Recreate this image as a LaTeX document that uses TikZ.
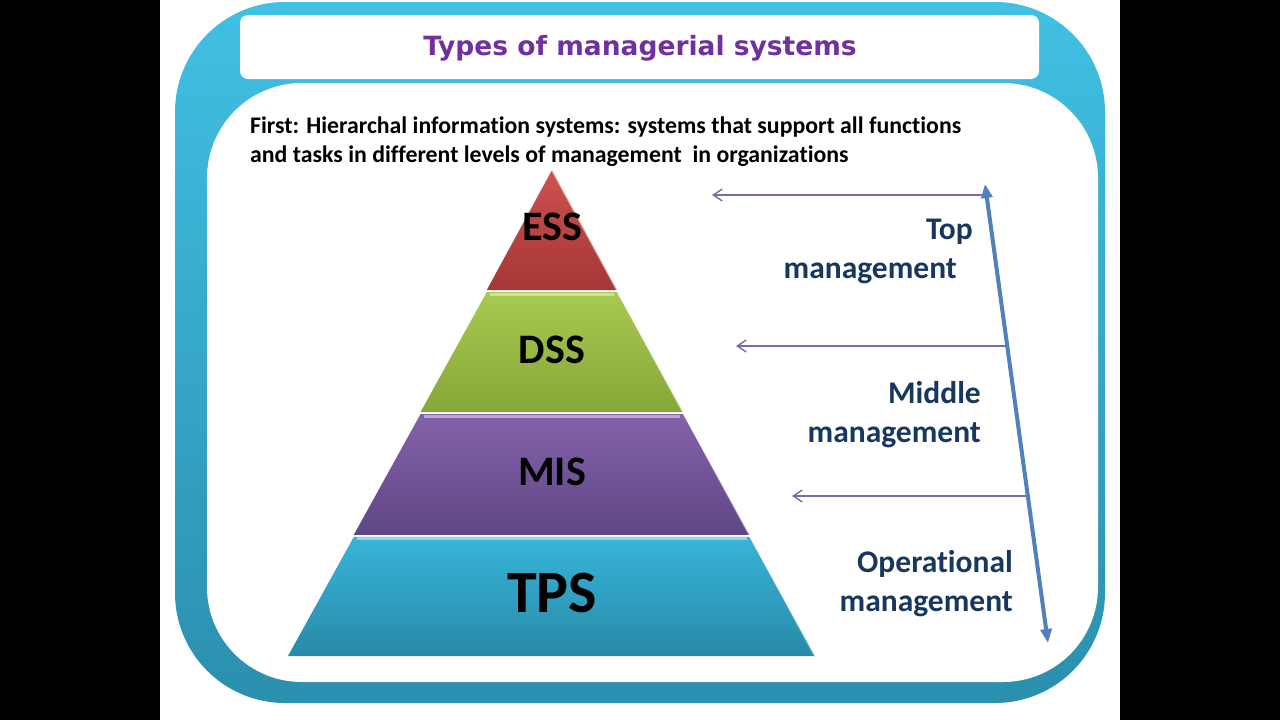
\documentclass[tikz,border=0pt]{standalone}
\usepackage{fontspec}
\setmainfont{Carlito}[Ligatures={NoCommon}]
\newfontfamily\titlefont{DejaVu Sans}
\usetikzlibrary{arrows.meta,calc}
\definecolor{rim}{HTML}{41C0E4}
\definecolor{rimdk}{HTML}{2B8FAE}
\definecolor{plum}{HTML}{7030A0}
\definecolor{navy}{HTML}{17375E}
\definecolor{lav}{HTML}{7D68A8}
\definecolor{steel}{HTML}{4F81BD}
\tikzset{head/.style={font=\titlefont\bfseries\fontsize{26.5}{30}\selectfont,text=plum},
intro/.style={font=\bfseries\fontsize{23.8}{29}\selectfont,align=left,inner sep=0},
lvl/.style={font=\bfseries\fontsize{42}{48}\selectfont,inner sep=0},
side/.style={font=\bfseries\fontsize{31.5}{39}\selectfont,text=navy,align=right,inner sep=0},
tick/.style={-{Straight Barb[length=9pt,width=12pt]},lav,line width=1.4pt},
span/.style={{Triangle[length=14pt,width=11pt]}-{Triangle[length=14pt,width=11pt]},steel,line width=4pt},
bevel/.style={line width=3pt,white,opacity=.45}}

\begin{document}
\begin{tikzpicture}[x=1pt,y=-1pt]
\useasboundingbox (0,0) rectangle (1280,720);
\fill[black] (0,0) rectangle (1280,720);
\fill[white] (160,0) rectangle (1120,720);
\shade[top color=rim,bottom color=rimdk,rounded corners=110pt] (175,2) rectangle (1105,703);
\fill[white,rounded corners=95pt] (207,83) rectangle (1098,682);
\fill[white,rounded corners=8pt] (240,15) rectangle (1039,79);
\node[head] (title) at (640,48) {Types of managerial systems};
\node[intro,anchor=base west] (intro) at (250,162)
 {First: Hierarchal information systems: systems that support all functions\\and tasks in different levels of management\ \ in organizations};
\coordinate (apex) at (552,170);
\coordinate (bl) at (288,656);
\coordinate (br) at (815,656);
\coordinate (l1) at ($(apex)!.247!(bl)$);
\coordinate (r1) at ($(apex)!.247!(br)$);
\coordinate (l2) at ($(apex)!.498!(bl)$);
\coordinate (r2) at ($(apex)!.498!(br)$);
\coordinate (l3) at ($(apex)!.751!(bl)$);
\coordinate (r3) at ($(apex)!.751!(br)$);
\shade[top color={rgb,255:red,204;green,82;blue,80},bottom color={rgb,255:red,166;green,54;blue,54}] (apex) -- (r1) -- (l1) -- cycle;
\shade[top color={rgb,255:red,168;green,202;blue,80},bottom color={rgb,255:red,134;green,166;blue,56}] ($(l1)+(0,2)$) -- ($(r1)+(0,2)$) -- (r2) -- (l2) -- cycle;
\shade[top color={rgb,255:red,132;green,98;blue,170},bottom color={rgb,255:red,94;green,70;blue,132}] ($(l2)+(0,2)$) -- ($(r2)+(0,2)$) -- (r3) -- (l3) -- cycle;
\shade[top color={rgb,255:red,56;green,180;blue,216},bottom color={rgb,255:red,40;green,138;blue,168}] ($(l3)+(0,2)$) -- ($(r3)+(0,2)$) -- (br) -- (bl) -- cycle;
\draw[bevel] ($(l1)+(3,4)$) -- ($(r1)+(-3,4)$);
\draw[bevel] ($(l2)+(3,4)$) -- ($(r2)+(-3,4)$);
\draw[bevel] ($(l3)+(3,4)$) -- ($(r3)+(-3,4)$);
\draw[bevel,line width=2pt] (apex) -- (br);
\node[lvl,anchor=base] (ess) at (552,240) {ESS};
\node[lvl,anchor=base] (dss) at (552,363) {DSS};
\node[lvl,anchor=base] (mis) at (552,485) {MIS};
\node[lvl,anchor=base,font=\bfseries\fontsize{60}{66}\selectfont] (tps) at (552,612) {TPS};
\node[side,anchor=base east] (top) at (973,278) {Top\\management\hspace*{16pt}};
\node[side,anchor=base east] (mid) at (981,442) {Middle\\management};
\node[side,anchor=base east] (ops) at (1013,611) {Operational\\management};
\coordinate (up) at (985,184);
\coordinate (down) at (1048,643);
\coordinate (a1) at (986,195);
\coordinate (b1) at (712,195);
\coordinate (a2) at (1006,346);
\coordinate (b2) at (736,346);
\coordinate (a3) at (1027,496);
\coordinate (b3) at (792,496);
\draw[tick] (a1) -- (b1);
\draw[tick] (a2) -- (b2);
\draw[tick] (a3) -- (b3);
\draw[span] (down) -- (up);
\end{tikzpicture}
\end{document}
